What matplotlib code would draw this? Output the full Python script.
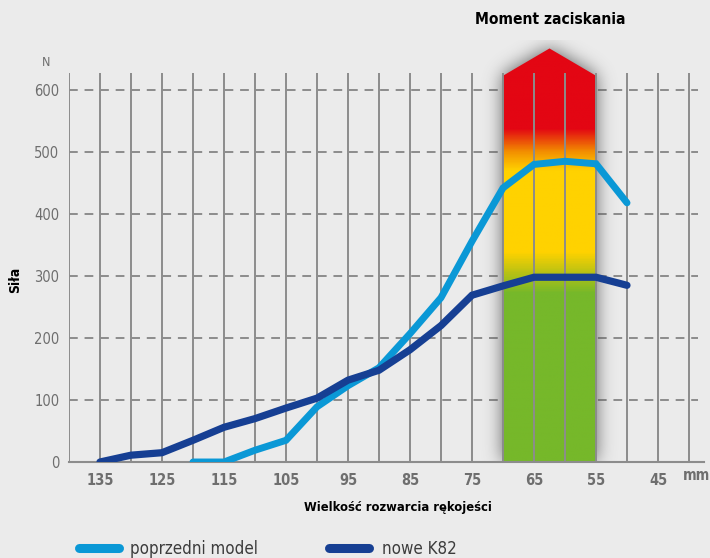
import numpy as np
import matplotlib
matplotlib.use("Agg")
import matplotlib.pyplot as plt
from matplotlib.path import Path
from matplotlib.patches import PathPatch
from matplotlib.colors import LinearSegmentedColormap

# ---- data ----
x_old = [120, 115, 110, 105, 100, 95, 90, 85, 80, 75, 70, 65, 60, 55, 50]
y_old = [0, 0, 19, 35, 89, 123, 152, 207, 265, 356, 442, 480, 485, 481, 418]
x_new = [135, 130, 125, 120, 115, 110, 105, 100, 95, 90, 85, 80, 75, 70, 65, 60, 55, 50]
y_new = [0, 11, 15, 35, 56, 70, 87, 103, 132, 148, 181, 220, 269, 284, 298, 298, 298, 285]
x_ticks = [135, 125, 115, 105, 95, 85, 75, 65, 55, 45]
y_ticks = [0, 100, 200, 300, 400, 500, 600]
band_x = [70, 55]          # clamping range (mm)
band_top = 623
arrow_tip = 667
label_old = "poprzedni model"
label_new = "nowe K82"

C_OLD = "#0a98d6"
C_NEW = "#163f93"
BG = "#ebebeb"
GRID = "#8c8c8c"
plt.rcParams["font.family"] = ["DejaVu Sans"]
plt.rcParams["font.stretch"] = "condensed"

fig = plt.figure(figsize=(7.1, 5.58), dpi=100, facecolor=BG)
ax = fig.add_axes([69/710, 1-462/558, 635/710, 421.6/558])
ax.set_facecolor(BG)
XMAX, XMIN = 140, 140 - 635/6.2
ax.set_xlim(XMAX, XMIN)
ax.set_ylim(0, 680)
for s in ["top", "right", "left"]:
    ax.spines[s].set_visible(False)
ax.spines["bottom"].set_color(GRID)
ax.spines["bottom"].set_linewidth(1.5)
ax.spines["bottom"].set_zorder(2)

for yv in y_ticks[1:]:
    ax.plot([XMAX, XMIN + 1], [yv, yv], color=GRID, lw=1.4, ls=(0, (4.5, 3.5)), zorder=0.5)

# ---- shadow ----
x0, x1 = band_x
xc = (x0 + x1) / 2
poly = [(x0, 0), (x0, band_top), (xc, arrow_tip), (x1, band_top), (x1, 0), (x0, 0)]
path = Path(poly)
ex0, ex1 = x0 + 8, x1 - 8
ey0, ey1 = 0, arrow_tip + 70
nx, ny = 200, 500
gx = np.linspace(ex0, ex1, nx)
gy = np.linspace(ey0, ey1, ny)
GX, GY = np.meshgrid(gx, gy)
mask = path.contains_points(np.c_[GX.ravel(), GY.ravel()]).reshape(ny, nx).astype(float)
def blur(a, sigma_px, axis):
    r = int(3 * sigma_px)
    k = np.exp(-0.5 * (np.arange(-r, r + 1) / sigma_px) ** 2)
    k /= k.sum()
    return np.apply_along_axis(lambda v: np.convolve(np.pad(v, r, mode="edge"), k, mode="valid"), axis, a)
px_per_cell_x = 6.2 * (ex0 - ex1) / nx
px_per_cell_y = 0.62 * (ey1 - ey0) / ny
sh = blur(mask, 9 / px_per_cell_x, 1)
sh = blur(sh, 9 / px_per_cell_y, 0)
rgba = np.zeros((ny, nx, 4))
rgba[..., :3] = 0.3
rgba[..., 3] = np.clip(sh * 1.2, 0, 1) * 0.75
ax.imshow(rgba, extent=[ex0, ex1, ey0, ey1], origin="lower", aspect="auto",
          zorder=0.8, interpolation="bilinear")

# ---- gradient band ----
cmap = LinearSegmentedColormap.from_list("band", [
    (0.0, "#76b82a"), (272/680, "#76b82a"), (305/680, "#b9c214"), (338/680, "#ffd200"),
    (470/680, "#ffd200"), (500/680, "#f39200"), (538/680, "#e30613"), (1.0, "#e30613")])
grad = np.linspace(0, 1, 680).reshape(-1, 1)
im = ax.imshow(grad, extent=[x0, x1, 0, 680], origin="lower", aspect="auto",
               cmap=cmap, vmin=0, vmax=1, zorder=1)
patch = PathPatch(path, fc="none", ec="none")
ax.add_patch(patch)
im.set_clip_path(patch)

vx = np.arange(140, XMIN, -5)
ax.vlines(vx, 0, 627, color=GRID, lw=1.4, zorder=2)

# ---- lines ----
ax.plot(x_old, y_old, color=C_OLD, lw=5.0, solid_capstyle="round", solid_joinstyle="miter", zorder=3)
ax.plot(x_new, y_new, color=C_NEW, lw=5.2, solid_capstyle="round", solid_joinstyle="miter", zorder=4)

# ---- ticks ----
ax.set_xticks(x_ticks)
ax.set_xticklabels([str(v) for v in x_ticks], fontsize=10.5, fontweight="bold", color="#6e6e6e")
ax.set_yticks(y_ticks)
ax.set_yticklabels([str(v) for v in y_ticks], fontsize=10.5, color="#6e6e6e")
ax.tick_params(length=0, pad=7)
ax.tick_params(axis="x", pad=8)

fig.text(697/710, 1-476/558, "mm", ha="center", va="center", fontsize=10.5, fontweight="bold", color="#6e6e6e")
fig.text(46/710, 1-63/558, "N", ha="center", va="center", fontsize=9, color="#6e6e6e")
fig.text(15/710, 1-280/558, "Siła", ha="center", va="center", rotation=90, fontsize=10, fontweight="bold", color="black")
fig.text(398/710, 1-507/558, "Wielkość rozwarcia rękojeści", ha="center", va="center", fontsize=9.3, fontweight="bold", color="black")
fig.text(550/710, 1-20/558, "Moment zaciskania", ha="center", va="center", fontsize=11.2, fontweight="bold", color="black")

lax = fig.add_axes([0, 0, 1, 1], facecolor="none")
lax.set_xlim(0, 710); lax.set_ylim(558, 0); lax.axis("off")
lax.plot([79, 119], [548, 548], color=C_OLD, lw=6.5, solid_capstyle="round")
lax.text(130, 549, label_old, ha="left", va="center", fontsize=12.2, color="#3c3c3c")
lax.plot([329, 369], [548, 548], color=C_NEW, lw=6.5, solid_capstyle="round")
lax.text(382, 549, label_new, ha="left", va="center", fontsize=12.2, color="#3c3c3c")

fig.savefig("out.png", dpi=100, facecolor=BG)
